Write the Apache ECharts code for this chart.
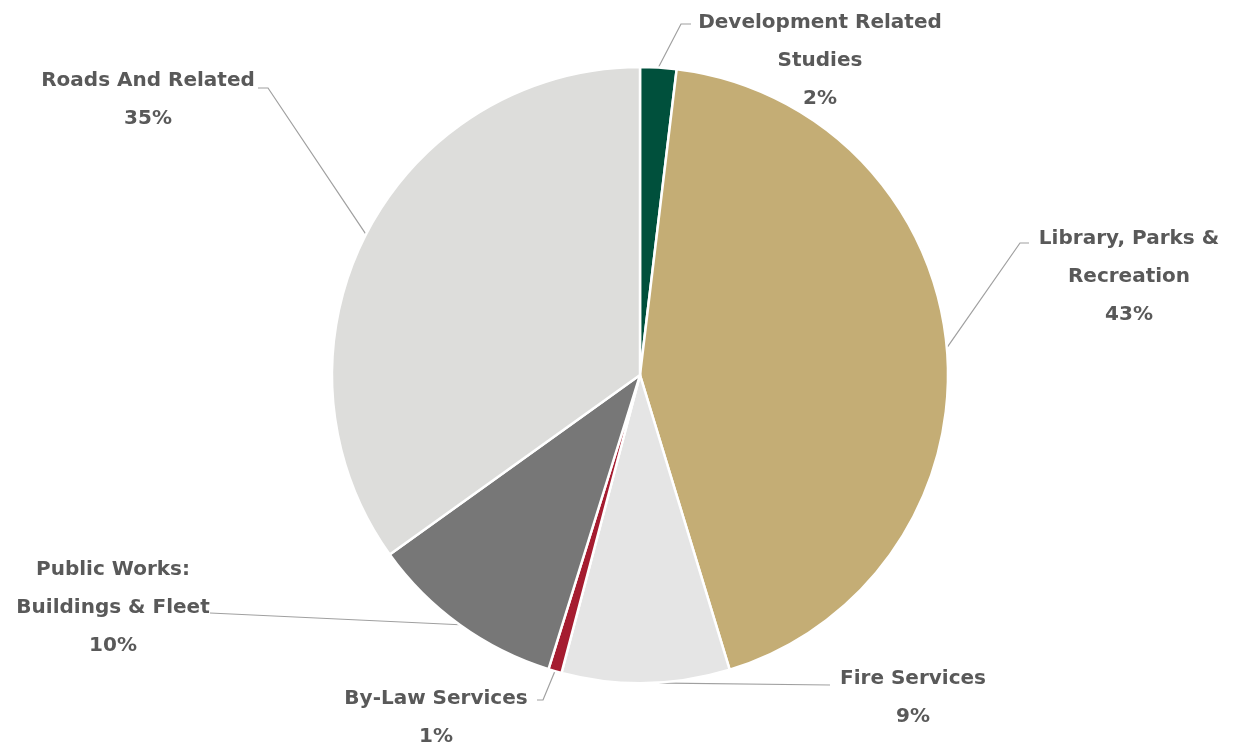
<!DOCTYPE html>
<html>
<head>
<meta charset="utf-8">
<title>Capital Spending by Service Area</title>
<script src="https://cdn.jsdelivr.net/npm/echarts@6/dist/echarts.min.js"></script>
<style>
  html, body { margin: 0; padding: 0; background: #ffffff; }
  #chart { width: 1239px; height: 747px; }
</style>
</head>
<body>
<div id="chart"></div>
<script>
// Service areas (clockwise from 12 o'clock) and their share of the total, in percent
const categories = [
  'Development Related\nStudies',
  'Library, Parks &\nRecreation',
  'Fire Services',
  'By-Law Services',
  'Public Works:\nBuildings & Fleet',
  'Roads And Related'
];
const shares = [1.9, 43.4, 8.8, 0.7, 10.3, 34.9];
const colors = ['#00503C', '#C4AD75', '#E5E5E5', '#A51C30', '#777777', '#DDDDDB'];

// Where each label block sits (centre x, top y) and the elbow / end of its leader line
const labelSpots = [
  { x: 820,  y: 4,   bend: [681, 24],  end: [691, 24] },
  { x: 1129, y: 220, bend: [1020, 243], end: [1029, 243] },
  { x: 913,  y: 660, bend: [830, 685], end: [830, 685] },
  { x: 436,  y: 680, bend: [543, 700], end: [537, 700] },
  { x: 113,  y: 551, bend: [210, 613], end: [210, 613] },
  { x: 148,  y: 62,  bend: [268, 88],  end: [258, 88] }
];

const chart = echarts.init(document.getElementById('chart'), null, { renderer: 'canvas' });

chart.setOption({
  backgroundColor: '#ffffff',
  animation: false,
  series: [{
    type: 'pie',
    center: [640, 375],
    radius: 308,
    startAngle: 90,
    clockwise: true,
    avoidLabelOverlap: false,
    itemStyle: { borderColor: '#ffffff', borderWidth: 2.5 },
    label: {
      show: true,
      position: 'outside',
      color: '#595959',
      fontFamily: '"DejaVu Sans", "Noto Sans", sans-serif',
      fontWeight: 'bold',
      fontSize: 20,
      lineHeight: 38,
      align: 'center',
      formatter: p => p.name + '\n' + Math.round(p.percent) + '%'
    },
    labelLine: {
      show: true,
      lineStyle: { color: '#A0A0A0', width: 1.2 }
    },
    labelLayout: function (params) {
      const s = labelSpots[params.dataIndex];
      const start = params.labelLinePoints ? params.labelLinePoints[0] : s.bend;
      return {
        x: s.x,
        y: s.y,
        align: 'center',
        verticalAlign: 'top',
        labelLinePoints: [start, s.bend, s.end]
      };
    },
    data: categories.map((name, i) => ({
      name: name,
      value: shares[i],
      itemStyle: { color: colors[i] }
    }))
  }]
});
</script>
</body>
</html>
